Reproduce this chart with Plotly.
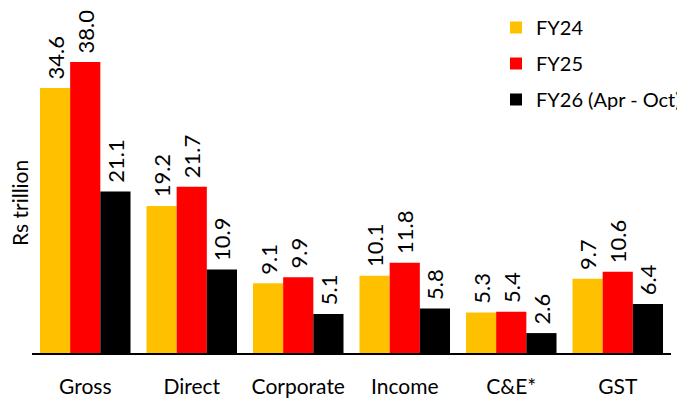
import plotly.graph_objects as go

categories = ["Gross", "Direct", "Corporate", "Income", "C&E*", "GST"]
fy24 = [34.6, 19.2, 9.1, 10.1, 5.3, 9.7]
fy25 = [38.0, 21.7, 9.9, 11.8, 5.4, 10.6]
fy26 = [21.1, 10.9, 5.1, 5.8, 2.6, 6.4]
series = [("FY24", fy24, "#FFC000"), ("FY25", fy25, "#FF0000"), ("FY26 (Apr - Oct)", fy26, "#000000")]

FONT = "Lato, Open Sans, sans-serif"
# page body has an 8px margin, so the figure is drawn 8px smaller
W, H = 677, 393
L, R, T, B = 24, 14, 2, 48
plot_w = W - L - R
plot_h = H - T - B

fig = go.Figure()
for i, (name, vals, col) in enumerate(series):
    fig.add_trace(go.Bar(
        x=categories, y=vals, name=name, marker_color=col, marker_line_width=0,
        text=["\u00a0" + f"{v:.1f}" for v in vals], textposition="outside", textangle=-90,
        constraintext="none",
        textfont=dict(size=22, color="#000", family=FONT), cliponaxis=False,
        legendgroup=f"g{i}"))

fig.update_layout(
    width=W, height=H, barmode="group", bargap=0.15, bargroupgap=0,
    margin=dict(l=L, r=R, t=T, b=B, autoexpand=False),
    plot_bgcolor="white", paper_bgcolor="white",
    font=dict(family=FONT, size=20, color="#000"),
    legend=dict(x=(488 - L) / plot_w, y=(H - B) / plot_h, xanchor="left", yanchor="top",
                traceorder="grouped", tracegroupgap=7, font=dict(size=20),
                bgcolor="rgba(0,0,0,0)"),
    showlegend=True,
    annotations=[dict(text="Rs trillion", x=(11 - L) / plot_w, xref="paper",
                      y=(H - B - 195) / plot_h, yref="paper", xanchor="center",
                      yanchor="middle", showarrow=False, textangle=-90,
                      font=dict(size=21))],
)

fig.update_xaxes(showline=True, linecolor="#000", linewidth=2, ticks="", automargin=False,
                 tickfont=dict(size=21), ticklabelstandoff=14)
fig.update_yaxes(range=[0, 44.8], showticklabels=False, showgrid=False, zeroline=False,
                 automargin=False)
fig.write_html("out.html")
